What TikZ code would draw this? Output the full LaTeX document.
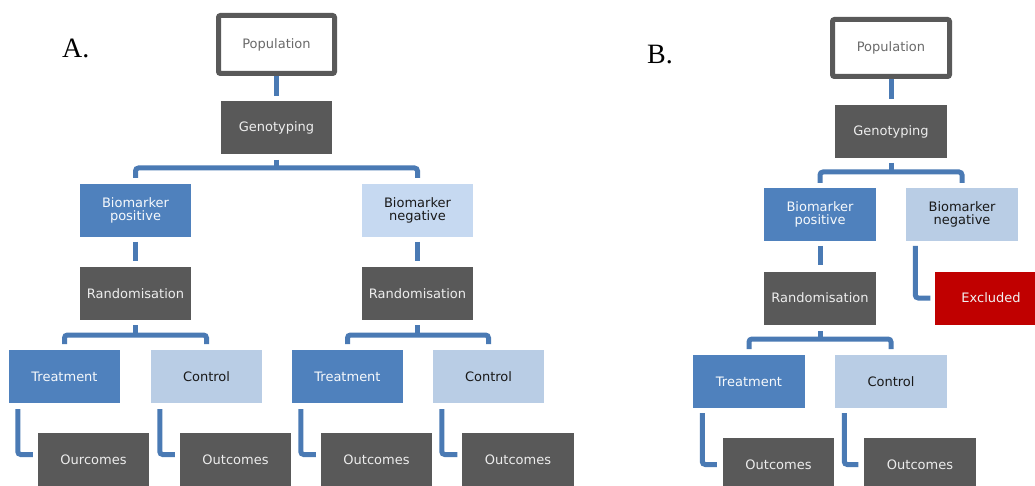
\documentclass[tikz,border=0pt]{standalone}
\usepackage{fontspec}
\setmainfont{DejaVu Sans}
\newfontfamily\serifA{Liberation Serif}
\definecolor{dk}{HTML}{595959}
\definecolor{bl}{HTML}{4F81BD}
\definecolor{lb}{HTML}{B9CDE5}
\definecolor{lbb}{HTML}{C6D9F1}
\definecolor{rd}{HTML}{C00000}
\definecolor{cn}{HTML}{4A7AB4}
\begin{document}
\begin{tikzpicture}[x=1pt,y=-1pt,
 box/.style={minimum width=111.5pt,minimum height=53pt,inner sep=0pt,outer sep=0pt,
   font=\fontsize{13}{13.5}\selectfont,align=center},
 darkbox/.style={box,fill=dk,text=white!93!black},
 bluebox/.style={box,fill=bl,text=white!95!bl},
 lightbox/.style={box,fill=lb,text=black!90},
 redbox/.style={box,fill=rd,text=white!95!black},
 popbox/.style={box,draw=dk,line width=5pt,rounded corners=2pt,fill=white,text=dk!90,
   minimum width=116pt,minimum height=58pt},
 conn/.style={draw=cn,line width=5pt,rounded corners=3pt},
 lbl/.style={font=\serifA\fontsize{28}{28}\selectfont,anchor=base west,inner sep=0pt}]
\useasboundingbox (0,0) rectangle (1035,486);
\fill[white] (0,0) rectangle (1035,486);
\node[lbl] (labA) at (62,58) {A.};
\node[lbl] (labB) at (647,64) {B.};
% ---------- A ----------
\node[popbox] (popA) at (276.5,44.5) {Population};
\node[darkbox] (genoA) at (276.5,127.5) {Genotyping};
\node[bluebox] (bposA) at (135.5,210.5) {Biomarker\\positive};
\node[lightbox,fill=lbb] (bnegA) at (417.5,210.5) {Biomarker\\negative};
\node[darkbox] (randA1) at (135.5,293.5) {Randomisation};
\node[darkbox] (randA2) at (417.5,293.5) {Randomisation};
\node[bluebox] (trA1) at (64.5,376.5) {Treatment};
\node[lightbox] (ctA1) at (206.5,376.5) {Control};
\node[bluebox] (trA2) at (347.5,376.5) {Treatment};
\node[lightbox] (ctA2) at (488.5,376.5) {Control};
\node[darkbox] (ouA1) at (93.5,459.5) {Ourcomes};
\node[darkbox] (ouA2) at (235.5,459.5) {Outcomes};
\node[darkbox] (ouA3) at (376.5,459.5) {Outcomes};
\node[darkbox] (ouA4) at (518,459.5) {Outcomes};
\draw[conn] ([yshift=-2.5pt]popA.south) -- ([yshift=5pt]genoA.north);
\draw[conn] ([yshift=6pt]bposA.north) -- ++(0,-10) -| ([yshift=6pt]bnegA.north);
\draw[conn] ([yshift=-6pt]genoA.south) -- ++(0,8);
\draw[conn] ([yshift=-5pt]bposA.south) -- ([yshift=6pt]randA1.north);
\draw[conn] ([yshift=-5pt]bnegA.south) -- ([yshift=6pt]randA2.north);
\draw[conn] ([yshift=6pt]trA1.north) -- ++(0,-9) -| ([yshift=6pt]ctA1.north);
\draw[conn] ([yshift=-5pt]randA1.south) -- ++(0,10);
\draw[conn] ([yshift=6pt]trA2.north) -- ++(0,-9) -| ([yshift=6pt]ctA2.north);
\draw[conn] ([yshift=-5pt]randA2.south) -- ++(0,10);
\draw[conn] ([xshift=9pt,yshift=-6pt]trA1.south west) |- ([xshift=-5pt,yshift=5pt]ouA1.west);
\draw[conn] ([xshift=9pt,yshift=-6pt]ctA1.south west) |- ([xshift=-5pt,yshift=5pt]ouA2.west);
\draw[conn] ([xshift=9pt,yshift=-6pt]trA2.south west) |- ([xshift=-5pt,yshift=5pt]ouA3.west);
\draw[conn] ([xshift=9pt,yshift=-6pt]ctA2.south west) |- ([xshift=-5pt,yshift=5pt]ouA4.west);
% ---------- B ----------
\node[popbox,minimum width=117pt,minimum height=57pt] (popB) at (891,48) {Population};
\node[darkbox] (genoB) at (891,131.5) {Genotyping};
\node[bluebox] (bposB) at (820,214.5) {Biomarker\\positive};
\node[lightbox] (bnegB) at (962,214.5) {Biomarker\\negative};
\node[darkbox] (randB) at (820,298) {Randomisation};
\node[redbox] (excl) at (991,298) {Excluded};
\node[bluebox] (trB) at (749,381.5) {Treatment};
\node[lightbox] (ctB) at (891,381.5) {Control};
\node[darkbox] (ouB1) at (778.5,464.5) {Outcomes};
\node[darkbox] (ouB2) at (920,464.5) {Outcomes};
\draw[conn] ([yshift=-2.5pt]popB.south) -- ([yshift=6pt]genoB.north);
\draw[conn] ([yshift=5pt]bposB.north) -- ++(0,-11) -| ([yshift=5pt]bnegB.north);
\draw[conn] ([yshift=-5pt]genoB.south) -- ++(0,9);
\draw[conn] ([yshift=-5pt]bposB.south) -- ([yshift=6.5pt]randB.north);
\draw[conn] ([xshift=9pt,yshift=-5pt]bnegB.south west) |- ([xshift=-5pt]excl.west);
\draw[conn] ([yshift=6pt]trB.north) -- ++(0,-10) -| ([yshift=6pt]ctB.north);
\draw[conn] ([yshift=-6.5pt]randB.south) -- ++(0,8);
\draw[conn] ([xshift=9pt,yshift=-5pt]trB.south west) |- ([xshift=-6pt]ouB1.west);
\draw[conn] ([xshift=9pt,yshift=-5pt]ctB.south west) |- ([xshift=-6pt]ouB2.west);
\end{tikzpicture}
\end{document}
